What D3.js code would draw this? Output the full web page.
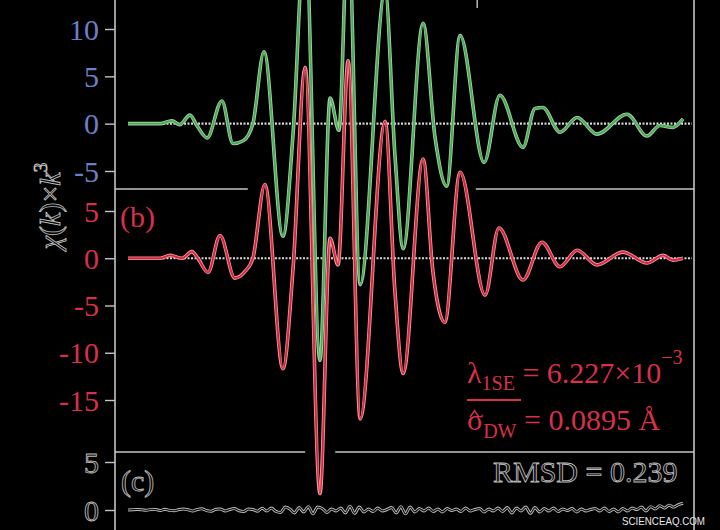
<!DOCTYPE html>
<html>
<head>
<meta charset="utf-8">
<script src="https://cdn.jsdelivr.net/npm/d3@7"></script>
<style>
  html, body { margin: 0; padding: 0; background: #000; }
  svg { display: block; }
  .serif { font-family: "Liberation Serif", "DejaVu Serif", serif; }
  .hollow { fill: #0a0a0a; stroke: #b8b8b8; stroke-width: 0.9px; }
</style>
</head>
<body>
<div id="chart"></div>
<script>
// measured chi(k)*k^3 (green, panel a)
const kData = [2.0, 2.69, 2.95, 3.12, 3.34, 3.49, 3.71, 4.03, 4.27, 4.49, 4.70, 4.94, 5.35, 5.57, 5.83,
  6.15, 6.37, 6.56, 6.76, 7.02, 7.56, 7.77, 7.95, 8.38, 8.64, 8.89, 9.18, 9.70, 10.04, 10.54,
  10.80, 10.97, 11.34, 11.71, 12.14, 12.79, 13.22, 13.50, 13.78, 14.0];
const chiData = [0, 0, 0.3, -0.1, 0.9, -0.2, -1.5, 2.4, -2.1, -1.8, 0, 7.6, -11.9, -1.0, 20.5,
  -25.0, 2.7, -0.7, 21.0, -17.0, 14.0, -3.2, -13.2, 10.6, -1.5, -6.6, 9.3, -4.1, 3.0, -2.5,
  1.6, 1.7, -0.9, 0.65, -1.1, 1.0, -1.3, -0.2, -0.4, 0.5];

// fitted chi(k)*k^3 (red, panel b)
const kFit = [2.0, 2.69, 2.91, 3.17, 3.38, 3.51, 3.73, 3.99, 4.31, 4.53, 4.70, 4.96, 5.35, 5.57, 5.83,
  6.15, 6.37, 6.54, 6.76, 7.02, 7.56, 7.77, 7.95, 8.38, 8.59, 8.85, 9.18, 9.72, 10.02, 10.54,
  10.95, 11.34, 11.71, 12.14, 12.70, 13.22, 13.57, 13.78, 14.0];
const chiFit = [0, 0, 0.3, 0, 0.7, 0, -1.5, 2.4, -2.1, -1.4, 0, 7.8, -11.7, -1.0, 20.2,
  -24.9, 2.1, -0.7, 20.9, -17.0, 14.5, -3.4, -12.2, 10.5, -1.3, -6.8, 9.1, -3.9, 3.2, -2.3,
  1.7, -0.9, 0.85, -0.7, 0.65, -0.5, 0.3, -0.2, 0];

// residual (panel c), k = 2.0 ... 14.0 step 0.1
const residual = [0, 0.03, 0.05, 0.02, -0.03, 0.06, 0.04, -0.05, 0.08, -0.04, -0.08,
  0.05, 0.1, 0.02, -0.1, 0.06, 0.12, -0.06, -0.12, 0.08, 0.1,
  -0.1, 0.05, 0.15, -0.08, -0.15, 0.1, 0.05, -0.12, 0.18, -0.1,
  0.2, -0.15, -0.25, 0.3, 0.1, -0.3, 0.25, -0.2, 0.35, -0.4,
  0.3, 0.15, -0.25, 0.1, -0.1, 0.2, -0.3, 0.4, -0.35, 0.3,
  -0.2, 0.1, -0.15, 0.2, -0.1, 0.05, 0.25, -0.3, 0.35, -0.4,
  0.3, -0.2, 0.15, -0.1, 0.2, -0.15, 0.1, -0.2, 0.15, -0.05,
  0.1, -0.15, 0.2, -0.1, 0.05, 0.15, -0.2, 0.1, -0.1, 0.2,
  -0.15, 0.25, -0.3, 0.2, -0.1, 0.3, -0.35, 0.25, -0.2, 0.15,
  -0.1, 0.2, -0.15, 0.1, -0.05, 0.15, -0.2, 0.1, -0.1, 0.05,
  0.15, -0.1, 0.2, -0.15, 0.1, -0.2, 0.15, -0.1, 0.2, 0.05,
  0.3, -0.1, 0.35, 0.1, 0.45, 0.2, 0.5, 0.3, 0.55, 0.7];
const kRes = d3.range(residual.length).map(i => 2 + i * 0.1);

const topTicks = [-5, 0, 5, 10];
const midTicks = [-15, -10, -5, 0, 5];
const botTicks = [0, 5];

const width = 720, height = 530;
const axisX = 115, frameRight = 694;

const x = d3.scaleLinear().domain([2, 14]).range([128, 683]);
const yTop = d3.scaleLinear().domain([-5, 10]).range([171, 29]);
const yMid = d3.scaleLinear().domain([-15, 5]).range([400, 211]);
const yBot = d3.scaleLinear().domain([0, 5]).range([510, 462]);

const svg = d3.select("#chart")
  .append("svg")
  .attr("width", width)
  .attr("height", height)
  .style("background", "#000");

const grey = "#c4c4c4";

// frame: left axis line, right edge, panel separators (broken where the curves cross)
svg.append("line").attr("x1", axisX).attr("x2", axisX).attr("y1", 0).attr("y2", height)
  .attr("stroke", grey).attr("stroke-width", 1.6);
svg.append("line").attr("x1", frameRight).attr("x2", frameRight).attr("y1", 0).attr("y2", height)
  .attr("stroke", grey).attr("stroke-width", 1.6);
svg.append("line").attr("x1", x(9.55)).attr("x2", x(9.55)).attr("y1", 0).attr("y2", 8)
  .attr("stroke", grey).attr("stroke-width", 1.4);

const seps = [
  { y: 189, parts: [[axisX, x(4.59)], [x(9.52), frameRight]] },
  { y: 452, parts: [[axisX, x(5.83)], [x(6.48), frameRight]] }
];
seps.forEach(s => {
  svg.append("g").selectAll("line").data(s.parts).join("line")
    .attr("x1", d => d[0]).attr("x2", d => d[1])
    .attr("y1", s.y).attr("y2", s.y)
    .attr("stroke", grey).attr("stroke-width", 1.6);
});

// dotted zero lines
[yTop, yMid].forEach(y => {
  svg.append("line")
    .attr("x1", x(2)).attr("x2", frameRight - 2)
    .attr("y1", y(0)).attr("y2", y(0))
    .attr("stroke", "#d8d8d8").attr("stroke-width", 2.2)
    .attr("stroke-dasharray", "2,1.5");
});

function drawCurve(ks, vs, y, halo, core) {
  const pts = ks.map((k, i) => [k, vs[i]]);
  const line = d3.line().x(d => x(d[0])).y(d => y(d[1])).curve(d3.curveMonotoneX);
  svg.append("path").datum(pts).attr("d", line)
    .attr("fill", "none").attr("stroke", halo).attr("stroke-width", 3.6)
    .attr("stroke-linejoin", "round");
  svg.append("path").datum(pts).attr("d", line)
    .attr("fill", "none").attr("stroke", core).attr("stroke-width", 1.9)
    .attr("stroke-linejoin", "round");
}

drawCurve(kData, chiData, yTop, "#9fd4a2", "#4da957");
drawCurve(kFit, chiFit, yMid, "#ef9aa3", "#d6263b");

// residual: dark line with light edge
{
  const pts = kRes.map((k, i) => [k, residual[i]]);
  const line = d3.line().x(d => x(d[0])).y(d => yBot(d[1])).curve(d3.curveMonotoneX);
  svg.append("path").datum(pts).attr("d", line)
    .attr("fill", "none").attr("stroke", "#bdbdbd").attr("stroke-width", 3);
  svg.append("path").datum(pts).attr("d", line)
    .attr("fill", "none").attr("stroke", "#111").attr("stroke-width", 1.2);
}

// y axes
function drawAxis(y, ticks, color, hollow) {
  const g = svg.append("g")
    .attr("transform", `translate(${axisX},0)`)
    .call(d3.axisLeft(y).tickValues(ticks).tickSize(10).tickPadding(6).tickFormat(d => String(d)));
  g.select(".domain").remove();
  g.selectAll(".tick line").attr("stroke", grey).attr("stroke-width", 1.4);
  const t = g.selectAll(".tick text")
    .attr("class", hollow ? "serif hollow" : "serif")
    .attr("font-size", 30)
    .attr("dy", "0.34em");
  if (!hollow) t.attr("fill", color);
}
drawAxis(yTop, topTicks, "#6c80c6", false);
drawAxis(yMid, midTicks, "#d8304a", false);
drawAxis(yBot, botTicks, null, true);

// y title
const yt = svg.append("text")
  .attr("class", "serif hollow")
  .attr("transform", "translate(60,206) rotate(-90)")
  .attr("text-anchor", "middle")
  .attr("font-size", 30);
yt.append("tspan").attr("font-style", "italic").text("χ");
yt.append("tspan").text("(");
yt.append("tspan").attr("font-style", "italic").text("k");
yt.append("tspan").text(")×");
yt.append("tspan").attr("font-style", "italic").text("k");
yt.append("tspan").attr("font-size", 19).attr("dy", -13).text("3");

// panel labels
const red = "#d8304a";
svg.append("text").attr("class", "serif").attr("x", 120).attr("y", 227)
  .attr("font-size", 30).attr("fill", red).text("(b)");
svg.append("text").attr("class", "serif hollow").attr("x", 121).attr("y", 491)
  .attr("font-size", 30).text("(c)");

// fit parameters
const lam = svg.append("text").attr("class", "serif").attr("x", 467).attr("y", 383)
  .attr("font-size", 30).attr("fill", red);
lam.append("tspan").text("λ");
lam.append("tspan").attr("font-size", 20).attr("dy", 7).text("1SE");
lam.append("tspan").attr("dy", -7).text(" = 6.227×10");
lam.append("tspan").attr("font-size", 20).attr("dy", -19).text("−3");

svg.append("line").attr("x1", 467).attr("x2", 521).attr("y1", 400).attr("y2", 400)
  .attr("stroke", red).attr("stroke-width", 2);
// hat over sigma
svg.append("path").attr("d", "M470,417 L474.5,410.5 L479,417")
  .attr("fill", "none").attr("stroke", red).attr("stroke-width", 1.4);
const sig = svg.append("text").attr("class", "serif").attr("x", 467).attr("y", 430)
  .attr("font-size", 30).attr("fill", red);
sig.append("tspan").text("σ");
sig.append("tspan").attr("font-size", 20).attr("dy", 8).text("DW");
sig.append("tspan").attr("dy", -8).text(" = 0.0895 Å");

svg.append("text").attr("class", "serif hollow").attr("x", 493).attr("y", 482)
  .attr("font-size", 30).text("RMSD = 0.239");

// watermark
svg.append("text").attr("x", 622).attr("y", 525)
  .attr("font-family", "Liberation Sans, Arial, sans-serif")
  .attr("font-size", 11).attr("fill", "#e6e6e6")
  .attr("textLength", 83).attr("lengthAdjust", "spacingAndGlyphs")
  .text("SCIENCEAQ.COM");
</script>
</body>
</html>
